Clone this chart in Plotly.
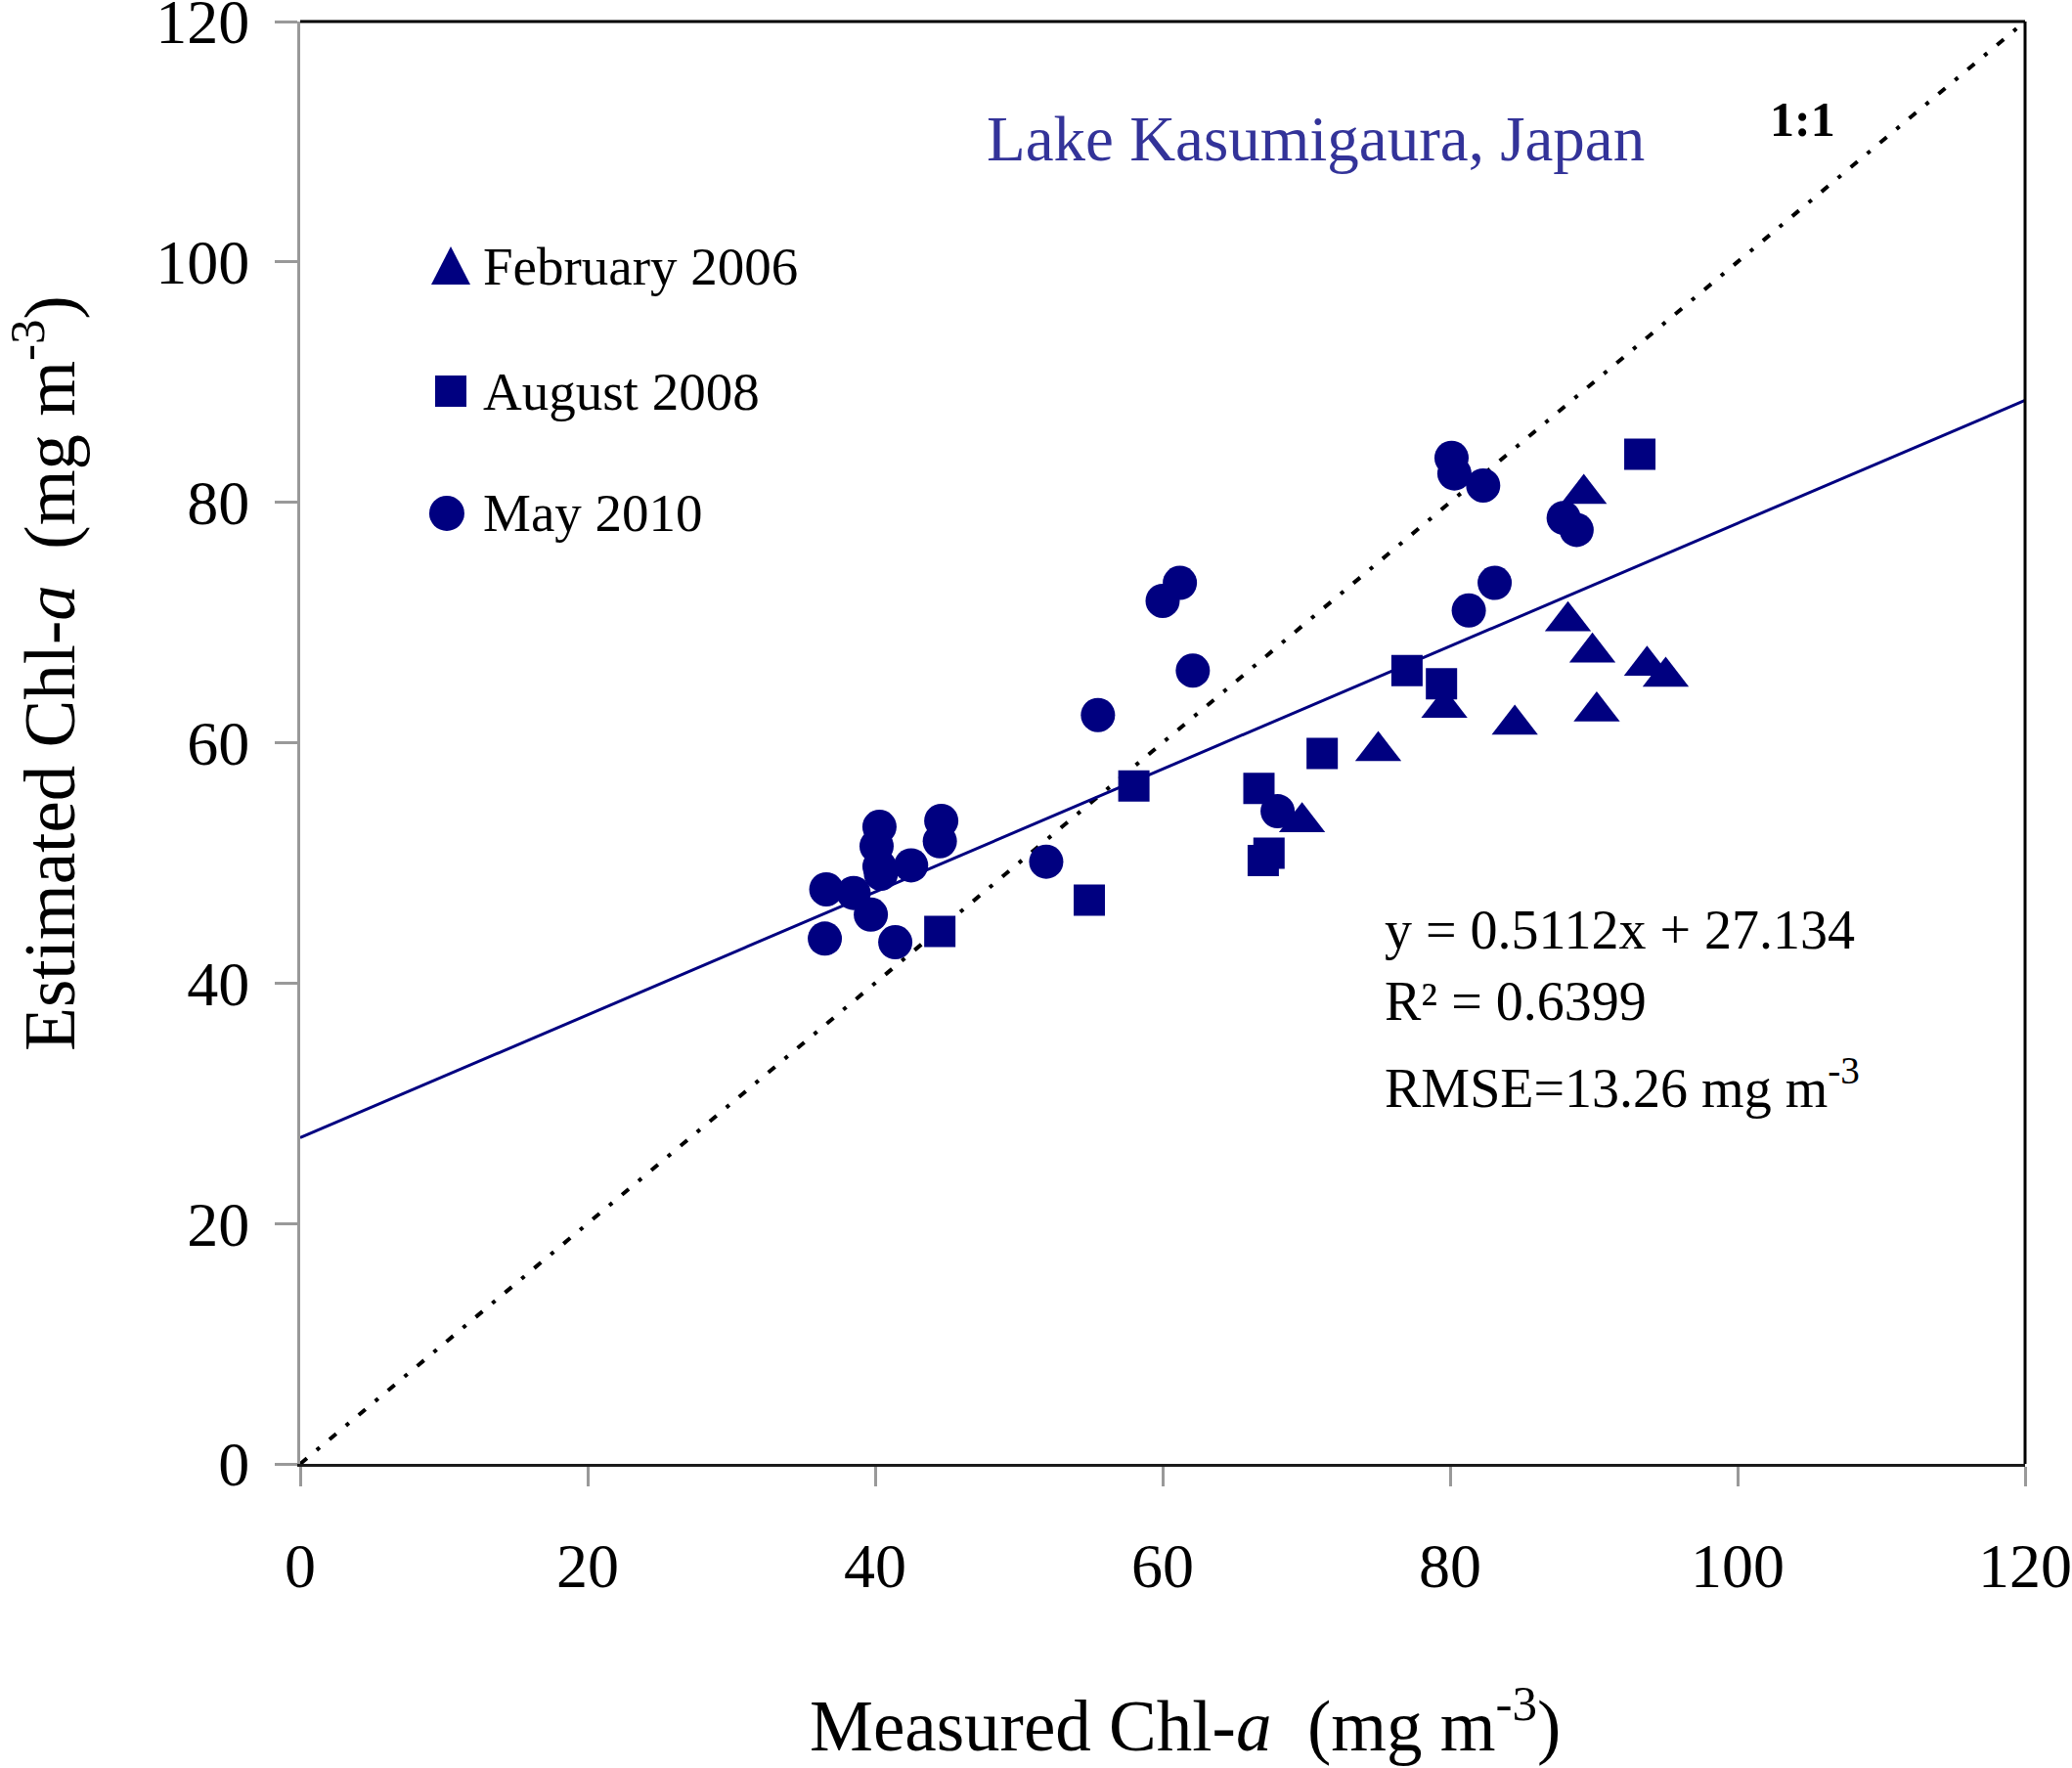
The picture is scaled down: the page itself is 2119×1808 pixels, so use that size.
import plotly.graph_objects as go

# ~~~ data
feb2006_x = [89.3, 88.2, 89.9, 93.7, 95.0, 79.6, 90.2, 84.5, 75.0, 69.7]
feb2006_y = [80.7, 70.1, 67.5, 66.4, 65.5, 62.9, 62.6, 61.5, 59.3, 53.4]

aug2008_x = [93.2, 77.0, 79.4, 71.1, 58.0, 66.7, 67.4, 67.0, 54.9, 44.5]
aug2008_y = [84.0, 66.0, 64.9, 59.1, 56.4, 56.2, 50.8, 50.2, 46.9, 44.3]

may2010_x = [80.1, 80.3, 82.3, 87.9, 88.8, 83.1, 81.3, 61.2, 60.0, 62.1, 55.5, 68.0, 51.9,
             40.3, 44.6, 44.5, 40.1, 40.3, 40.4, 42.5, 36.6, 38.5, 39.7, 36.5, 41.4]
may2010_y = [83.7, 82.4, 81.4, 78.7, 77.7, 73.3, 71.0, 73.3, 71.8, 66.0, 62.3, 54.3, 50.1,
             53.0, 53.5, 51.8, 51.4, 49.7, 49.1, 49.8, 47.8, 47.5, 45.7, 43.7, 43.4]

fit_slope = 0.5112
fit_intercept = 27.134
fit_x = [0, 120]
one_to_one = [0, 120]

axis_ticks = [0, 20, 40, 60, 80, 100, 120]

NAVY = '#000080'
FONT = 'Liberation Serif'

fig = go.Figure()

fig.add_trace(go.Scatter(
    x=one_to_one, y=one_to_one, mode='lines',
    line=dict(color='black', width=4, dash='9px,13px,4px,13px'),
    showlegend=False, cliponaxis=False
))

fig.add_trace(go.Scatter(
    x=fit_x, y=[fit_slope * v + fit_intercept for v in fit_x], mode='lines',
    line=dict(color=NAVY, width=3),
    showlegend=False
))

fig.add_trace(go.Scatter(
    x=feb2006_x, y=feb2006_y, mode='markers', name='February 2006',
    marker=dict(symbol='triangle-up', size=41, color=NAVY, line=dict(width=0)),
    showlegend=False
))
fig.add_trace(go.Scatter(
    x=aug2008_x, y=aug2008_y, mode='markers', name='August 2008',
    marker=dict(symbol='square', size=32, color=NAVY, line=dict(width=0)),
    showlegend=False
))
fig.add_trace(go.Scatter(
    x=may2010_x, y=may2010_y, mode='markers', name='May 2010',
    marker=dict(symbol='circle', size=35, color=NAVY, line=dict(width=0)),
    showlegend=False
))

# frame: black top and right edges
shapes = [
    dict(type='line', xref='paper', yref='paper', x0=0, x1=1, y0=1, y1=1,
         line=dict(color='black', width=3)),
    dict(type='line', xref='paper', yref='paper', x0=1, x1=1, y0=0, y1=1,
         line=dict(color='black', width=3)),
]

# hand-made legend markers
legend_items = [('triangle', 0.0873, 0.8305, 'February 2006'),
                ('square', 0.0873, 0.7437, 'August 2008'),
                ('circle', 0.0850, 0.6590, 'May 2010')]
for kind, lx, ly, _ in legend_items:
    if kind == 'triangle':
        shapes.append(dict(type='path', xref='paper', yref='paper', xsizemode='pixel', ysizemode='pixel',
                           xanchor=lx, yanchor=ly, path='M-20,-19 L20,-19 L0,20 Z',
                           fillcolor=NAVY, line=dict(width=0)))
    elif kind == 'square':
        shapes.append(dict(type='rect', xref='paper', yref='paper', xsizemode='pixel', ysizemode='pixel',
                           xanchor=lx, yanchor=ly, x0=-16, x1=16, y0=-16, y1=16,
                           fillcolor=NAVY, line=dict(width=0)))
    else:
        shapes.append(dict(type='circle', xref='paper', yref='paper', xsizemode='pixel', ysizemode='pixel',
                           xanchor=lx, yanchor=ly, x0=-18, x1=18, y0=-18, y1=18,
                           fillcolor=NAVY, line=dict(width=0)))

annotations = []
for _, lx, ly, label in legend_items:
    annotations.append(dict(x=0.1049, y=ly, xref='paper', yref='paper', text=label,
                            showarrow=False, xanchor='left', yanchor='middle',
                            font=dict(family=FONT, size=55, color='black')))

stats_lines = [('y = 0.5112x + 27.134', 0.3705),
               ('R² = 0.6399', 0.3205),
               ('RMSE=13.26 mg m<sup>-3</sup>', 0.2635)]
for txt, ly in stats_lines:
    annotations.append(dict(x=0.6275, y=ly, xref='paper', yref='paper', text=txt,
                            showarrow=False, xanchor='left', yanchor='middle',
                            font=dict(family=FONT, size=56, color='black')))

annotations += [
    dict(x=0.589, y=0.9186, xref='paper', yref='paper', text='Lake Kasumigaura, Japan',
         showarrow=False, xanchor='center', yanchor='middle',
         font=dict(family=FONT, size=65, color='#333399')),
    dict(x=0.871, y=0.932, xref='paper', yref='paper', text='<b>1:1</b>',
         showarrow=False, xanchor='center', yanchor='middle',
         font=dict(family=FONT, size=50, color='black')),
    dict(x=0.513, y=-0.178, xref='paper', yref='paper',
         text='Measured Chl-<i>a</i>  (mg m<sup>-3</sup>)',
         showarrow=False, xanchor='center', yanchor='middle',
         font=dict(family=FONT, size=73, color='black')),
    dict(x=-0.148, y=0.548, xref='paper', yref='paper', textangle=-90,
         text='Estimated Chl-<i>a</i>  (mg m<sup>-3</sup>)',
         showarrow=False, xanchor='center', yanchor='middle',
         font=dict(family=FONT, size=73, color='black')),
]

fig.update_layout(
    width=2119,
    height=1808,
    margin={'l': 307, 'r': 48, 't': 22, 'b': 311, 'autoexpand': False},
    plot_bgcolor='white',
    paper_bgcolor='white',
    showlegend=False,
    shapes=shapes,
    annotations=annotations,
    xaxis=dict(
        range=[0, 120], tickvals=axis_ticks, showgrid=False, zeroline=False,
        showline=True, linecolor='#1a1a1a', linewidth=3,
        ticks='outside', ticklen=20, tickwidth=3, tickcolor='#999999',
        tickfont=dict(family=FONT, size=64, color='black'),
        ticklabelstandoff=26, ticklabeloverflow='allow', automargin=False,
    ),
    yaxis=dict(
        range=[0, 120], tickvals=axis_ticks, showgrid=False, zeroline=False,
        showline=True, linecolor='#999999', linewidth=3,
        ticks='outside', ticklen=23, tickwidth=3, tickcolor='#999999',
        tickfont=dict(family=FONT, size=64, color='black'),
        ticklabelstandoff=13, ticklabeloverflow='allow', automargin=False,
    ),
)

# drop the default 8px body margin so the figure fills the window exactly
fig.write_html("out.html", config={'displayModeBar': False},
               post_script="document.body.style.margin='0';")
